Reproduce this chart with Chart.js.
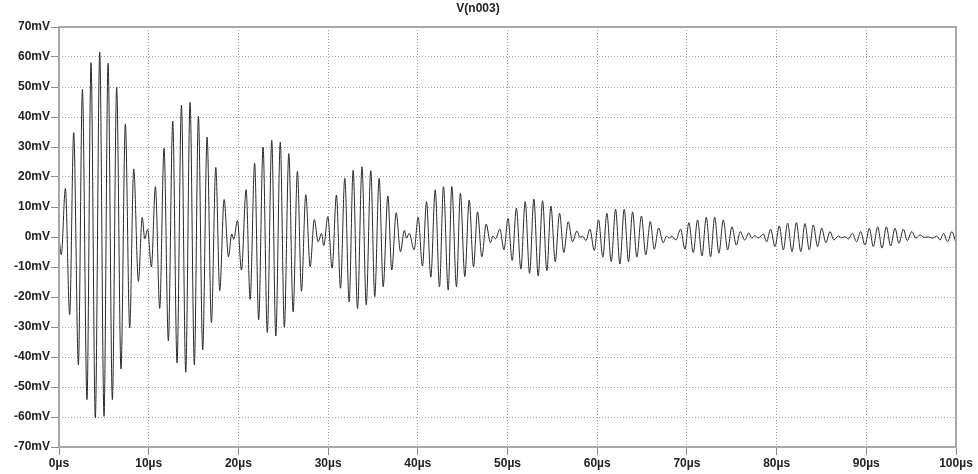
<!DOCTYPE html>
<html>
<head>
<meta charset="utf-8">
<script src="https://cdn.jsdelivr.net/npm/chart.js@4.4.1/dist/chart.umd.min.js"></script>
<style>
  html, body { margin: 0; padding: 0; background: #fff; }
</style>
</head>
<body>
<canvas id="myChart" width="978" height="474"></canvas>
<script>
// extremes of the trace (time in µs, value in mV)
const timeUs = [
  0.00, 0.26, 0.71, 1.19, 1.64, 2.16, 2.61, 3.12, 3.57, 4.05,
  4.54, 5.02, 5.47, 5.95, 6.43, 6.91, 7.40, 7.88, 8.33, 8.85,
  9.28, 9.56, 9.88, 10.30, 10.75, 11.23, 11.71, 12.19, 12.68, 13.16,
  13.65, 14.13, 14.61, 15.09, 15.54, 16.02, 16.51, 16.99, 17.48, 17.92,
  18.41, 18.89, 19.26, 19.48, 19.89, 20.34, 20.86, 21.31, 21.81, 22.26,
  22.75, 23.22, 23.72, 24.17, 24.67, 25.12, 25.62, 26.10, 26.58, 27.03,
  27.51, 28.00, 28.46, 28.89, 29.26, 29.52, 29.97, 30.45, 30.93, 31.38,
  31.86, 32.35, 32.79, 33.28, 33.78, 34.25, 34.76, 35.20, 35.69, 36.14,
  36.66, 37.10, 37.59, 38.07, 38.50, 38.74, 39.04, 39.59, 40.04, 40.52,
  40.97, 41.45, 41.94, 42.42, 42.86, 43.39, 43.79, 44.31, 44.75, 45.24,
  45.73, 46.21, 46.66, 47.14, 47.62, 48.10, 48.38, 48.66, 49.15, 49.61,
  50.06, 50.52, 50.99, 51.49, 51.97, 52.46, 52.94, 53.42, 53.91, 54.39,
  54.84, 55.32, 55.80, 56.28, 56.77, 57.25, 57.73, 58.07, 58.37, 58.74,
  59.19, 59.67, 60.15, 60.63, 61.08, 61.56, 62.05, 62.53, 63.01, 63.49,
  63.94, 64.42, 64.93, 65.41, 65.92, 66.36, 66.85, 67.36, 67.73, 68.03,
  68.29, 68.78, 69.29, 69.78, 70.22, 70.71, 71.19, 71.68, 72.16, 72.64,
  73.09, 73.57, 74.06, 74.54, 75.02, 75.51, 75.95, 76.44, 76.92, 77.22,
  77.59, 77.96, 78.52, 78.89, 79.33, 79.82, 80.30, 80.75, 81.23, 81.72,
  82.20, 82.70, 83.16, 83.64, 84.09, 84.57, 85.02, 85.50, 85.95, 86.39,
  86.88, 87.25, 87.63, 87.99, 88.45, 88.92, 89.37, 89.85, 90.34, 90.78,
  91.27, 91.75, 92.24, 92.71, 93.20, 93.64, 94.13, 94.57, 95.06, 95.54,
  95.99, 96.43, 96.92, 97.40, 97.85, 98.22, 98.60, 99.07, 99.53, 100.00
]
const voltMv = [
  0, -5.9, 16.2, -25.9, 34.8, -42.6, 49.2, -54.2, 58.1, -60.3,
  61.6, -59.8, 57.9, -54.2, 49.9, -44.0, 37.7, -30.3, 22.7, -14.8,
  6.5, -0.6, 2.6, -10.0, 16.8, -23.8, 29.6, -34.6, 38.6, -42.0,
  43.9, -45.1, 44.9, -42.6, 40.2, -37.6, 33.3, -28.5, 23.2, -17.9,
  12.5, -6.6, 1.0, -0.8, 5.5, -11.0, 15.8, -20.8, 24.6, -27.6,
  30.0, -31.8, 32.2, -33.0, 31.6, -30.1, 27.8, -24.9, 21.9, -18.1,
  14.1, -9.9, 5.8, -1.6, 1.2, -2.9, 6.8, -10.4, 14.0, -17.1,
  19.6, -21.6, 22.3, -23.8, 23.4, -22.6, 22.1, -19.9, 19.6, -16.6,
  13.7, -11.0, 8.1, -4.9, 2.2, -0.4, 1.2, -4.3, 6.6, -9.7,
  11.8, -13.4, 15.7, -16.6, 16.8, -17.7, 16.8, -16.6, 14.6, -13.2,
  12.3, -9.9, 8.4, -6.6, 4.3, -1.9, 0.3, -0.6, 2.6, -4.3,
  6.2, -7.8, 9.6, -10.7, 11.8, -12.1, 12.6, -13.0, 12.1, -11.2,
  10.3, -8.2, 7.9, -5.2, 5.1, -1.6, 2.0, -0.1, 0.3, -1.2,
  2.6, -4.5, 5.7, -6.7, 7.9, -8.2, 9.2, -9.0, 9.2, -8.2,
  8.4, -6.7, 7.0, -6.0, 5.1, -4.1, 3.0, -1.9, 0.3, -0.4,
  0.3, -1.0, 2.6, -4.1, 4.8, -5.2, 5.7, -6.3, 6.6, -6.6,
  6.6, -5.4, 5.7, -4.3, 3.4, -2.7, 1.8, -1.0, 1.4, -0.4,
  0.5, -0.4, 1.0, -1.6, 2.6, -3.2, 3.7, -4.3, 4.6, -4.9,
  4.8, -4.9, 4.5, -4.3, 4.0, -3.2, 2.9, -1.9, 1.8, -1.0,
  0.3, -0.3, 0.1, -0.7, 1.2, -1.6, 1.8, -2.7, 2.9, -3.2,
  3.4, -3.7, 3.4, -3.0, 2.9, -2.1, 2.6, -1.2, 1.8, -0.4,
  0.7, -0.1, 0, -0.4, 0.3, -1.0, 1.2, -1.6, 1.8, -2.0
]

const xTickValues = [0, 10, 20, 30, 40, 50, 60, 70, 80, 90, 100]
const xTickLabels = ['0µs', '10µs', '20µs', '30µs', '40µs', '50µs', '60µs', '70µs', '80µs', '90µs', '100µs']
const yTickValues = [-70, -60, -50, -40, -30, -20, -10, 0, 10, 20, 30, 40, 50, 60, 70]
const yTickLabels = ['-70mV', '-60mV', '-50mV', '-40mV', '-30mV', '-20mV', '-10mV', '0mV',
  '10mV', '20mV', '30mV', '40mV', '50mV', '60mV', '70mV']

const FONT = 'Liberation Sans, Arial, sans-serif'
const points = timeUs.map((t, i) => ({ x: t, y: voltMv[i] }))

// grey box round the plot area, like the scope window
const framePlugin = {
  id: 'frame',
  afterDraw: chart => {
    const { left, top, right, bottom } = chart.chartArea
    const ctx = chart.ctx
    ctx.save()
    ctx.strokeStyle = '#a8a8a8'
    ctx.lineWidth = 2
    ctx.strokeRect(left, top, right - left, bottom - top)
    ctx.restore()
  }
}

const gridStyle = {
  color: '#a0a0a0',
  lineWidth: 1,
  tickLength: 8,
  tickColor: '#8a8a8a',
  tickBorderDash: []
}

const config = {
  type: 'line',
  data: {
    datasets: [{
      label: 'V(n003)',
      data: points,
      borderColor: '#2a2a2a',
      borderWidth: 1,
      pointRadius: 0,
      cubicInterpolationMode: 'monotone',
      fill: false
    }]
  },
  plugins: [framePlugin],
  options: {
    responsive: false,
    animation: false,
    devicePixelRatio: 1,
    layout: { padding: { left: 0, right: 22, top: 0, bottom: 0 } },
    plugins: {
      legend: { display: false },
      tooltip: { enabled: false },
      title: {
        display: true,
        text: 'V(n003)',
        color: '#222',
        font: { family: FONT, size: 12, weight: 'bold' },
        padding: { top: 1, bottom: 11.6 }
      }
    },
    scales: {
      x: {
        type: 'linear',
        min: 0,
        max: 100,
        afterBuildTicks: scale => { scale.ticks = xTickValues.map(v => ({ value: v })) },
        afterFit: scale => { scale.height = 27 },
        grid: gridStyle,
        border: { display: false, dash: [1, 2] },
        ticks: {
          autoSkip: false,
          maxRotation: 0,
          padding: 1,
          color: '#222',
          font: { family: FONT, size: 12, weight: 'bold' },
          callback: v => xTickLabels[xTickValues.indexOf(v)]
        }
      },
      y: {
        min: -70,
        max: 70,
        afterBuildTicks: scale => { scale.ticks = yTickValues.map(v => ({ value: v })) },
        afterFit: scale => { scale.width = 59 },
        grid: gridStyle,
        border: { display: false, dash: [1, 2] },
        ticks: {
          autoSkip: false,
          padding: 1,
          color: '#222',
          font: { family: FONT, size: 12, weight: 'bold' },
          callback: v => yTickLabels[yTickValues.indexOf(v)]
        }
      }
    }
  }
}

const chart = new Chart(document.getElementById('myChart'), config)
</script>
</body>
</html>
